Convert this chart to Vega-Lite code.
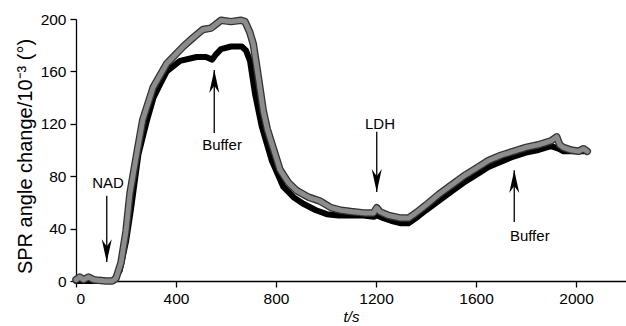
{
  "$schema": "https://vega.github.io/schema/vega-lite/v6.json",
  "width": 550,
  "height": 262,
  "autosize": "none",
  "padding": {"left": 76, "top": 19, "right": 0, "bottom": 45},
  "background": "white",
  "config": {
    "view": {"stroke": null},
    "font": "Liberation Sans",
    "axis": {
      "domainColor": "black",
      "domainWidth": 1.3,
      "tickColor": "black",
      "tickWidth": 1.3,
      "tickSize": 6,
      "labelColor": "black",
      "labelFontSize": 15.5,
      "titleColor": "black",
      "titleFontWeight": "normal",
      "grid": false
    }
  },
  "datasets": {
    "curves": [
      {"s": "black", "t": 0, "v": 0}, {"s": "black", "t": 150, "v": 0}, {"s": "black", "t": 175, "v": 8},
      {"s": "black", "t": 200, "v": 30}, {"s": "black", "t": 220, "v": 55}, {"s": "black", "t": 250, "v": 97},
      {"s": "black", "t": 283, "v": 122}, {"s": "black", "t": 310, "v": 140}, {"s": "black", "t": 333, "v": 149},
      {"s": "black", "t": 363, "v": 160}, {"s": "black", "t": 416, "v": 168}, {"s": "black", "t": 483, "v": 171},
      {"s": "black", "t": 520, "v": 171}, {"s": "black", "t": 545, "v": 169}, {"s": "black", "t": 560, "v": 173},
      {"s": "black", "t": 580, "v": 177}, {"s": "black", "t": 620, "v": 179}, {"s": "black", "t": 663, "v": 179},
      {"s": "black", "t": 680, "v": 176}, {"s": "black", "t": 696, "v": 168}, {"s": "black", "t": 716, "v": 143},
      {"s": "black", "t": 743, "v": 118}, {"s": "black", "t": 783, "v": 92}, {"s": "black", "t": 829, "v": 72},
      {"s": "black", "t": 870, "v": 64}, {"s": "black", "t": 909, "v": 59}, {"s": "black", "t": 960, "v": 54},
      {"s": "black", "t": 1003, "v": 51}, {"s": "black", "t": 1050, "v": 50}, {"s": "black", "t": 1100, "v": 50},
      {"s": "black", "t": 1150, "v": 50}, {"s": "black", "t": 1190, "v": 49}, {"s": "black", "t": 1205, "v": 50},
      {"s": "black", "t": 1230, "v": 48}, {"s": "black", "t": 1260, "v": 46}, {"s": "black", "t": 1300, "v": 44},
      {"s": "black", "t": 1330, "v": 44}, {"s": "black", "t": 1360, "v": 48}, {"s": "black", "t": 1400, "v": 54},
      {"s": "black", "t": 1450, "v": 61}, {"s": "black", "t": 1500, "v": 68}, {"s": "black", "t": 1550, "v": 75},
      {"s": "black", "t": 1600, "v": 81}, {"s": "black", "t": 1650, "v": 87}, {"s": "black", "t": 1700, "v": 91},
      {"s": "black", "t": 1750, "v": 95}, {"s": "black", "t": 1800, "v": 98}, {"s": "black", "t": 1850, "v": 100},
      {"s": "black", "t": 1900, "v": 103}, {"s": "black", "t": 1930, "v": 101}, {"s": "black", "t": 1950, "v": 99},
      {"s": "black", "t": 2000, "v": 99}, {"s": "black", "t": 2040, "v": 99},

      {"s": "gray", "t": 0, "v": 1}, {"s": "gray", "t": 15, "v": 3}, {"s": "gray", "t": 30, "v": 1},
      {"s": "gray", "t": 50, "v": 3}, {"s": "gray", "t": 70, "v": 1}, {"s": "gray", "t": 90, "v": 0.5},
      {"s": "gray", "t": 120, "v": 0}, {"s": "gray", "t": 145, "v": 0}, {"s": "gray", "t": 160, "v": 2},
      {"s": "gray", "t": 180, "v": 14}, {"s": "gray", "t": 200, "v": 38}, {"s": "gray", "t": 216, "v": 67},
      {"s": "gray", "t": 243, "v": 97}, {"s": "gray", "t": 267, "v": 123}, {"s": "gray", "t": 309, "v": 148},
      {"s": "gray", "t": 363, "v": 166}, {"s": "gray", "t": 429, "v": 179}, {"s": "gray", "t": 470, "v": 186},
      {"s": "gray", "t": 508, "v": 192}, {"s": "gray", "t": 540, "v": 193}, {"s": "gray", "t": 560, "v": 196},
      {"s": "gray", "t": 580, "v": 199}, {"s": "gray", "t": 620, "v": 198}, {"s": "gray", "t": 660, "v": 199},
      {"s": "gray", "t": 676, "v": 198}, {"s": "gray", "t": 695, "v": 190}, {"s": "gray", "t": 709, "v": 181},
      {"s": "gray", "t": 729, "v": 156}, {"s": "gray", "t": 749, "v": 130}, {"s": "gray", "t": 765, "v": 116},
      {"s": "gray", "t": 783, "v": 105}, {"s": "gray", "t": 816, "v": 85}, {"s": "gray", "t": 850, "v": 75},
      {"s": "gray", "t": 883, "v": 69}, {"s": "gray", "t": 930, "v": 64}, {"s": "gray", "t": 976, "v": 61},
      {"s": "gray", "t": 1020, "v": 56}, {"s": "gray", "t": 1060, "v": 54}, {"s": "gray", "t": 1100, "v": 53},
      {"s": "gray", "t": 1150, "v": 52}, {"s": "gray", "t": 1190, "v": 52}, {"s": "gray", "t": 1203, "v": 56},
      {"s": "gray", "t": 1215, "v": 53}, {"s": "gray", "t": 1250, "v": 50}, {"s": "gray", "t": 1300, "v": 48},
      {"s": "gray", "t": 1330, "v": 48}, {"s": "gray", "t": 1360, "v": 52}, {"s": "gray", "t": 1400, "v": 58},
      {"s": "gray", "t": 1450, "v": 66}, {"s": "gray", "t": 1500, "v": 73}, {"s": "gray", "t": 1550, "v": 80},
      {"s": "gray", "t": 1600, "v": 86}, {"s": "gray", "t": 1650, "v": 92}, {"s": "gray", "t": 1700, "v": 96},
      {"s": "gray", "t": 1750, "v": 99}, {"s": "gray", "t": 1800, "v": 102}, {"s": "gray", "t": 1850, "v": 104},
      {"s": "gray", "t": 1900, "v": 107}, {"s": "gray", "t": 1923, "v": 110}, {"s": "gray", "t": 1935, "v": 104},
      {"s": "gray", "t": 1949, "v": 102}, {"s": "gray", "t": 1980, "v": 100}, {"s": "gray", "t": 2010, "v": 99},
      {"s": "gray", "t": 2030, "v": 101}, {"s": "gray", "t": 2045, "v": 99}
    ],
    "notes": [
      {"label": "NAD", "t": 123, "tail": 65, "tip": 14.5, "dir": "down", "lt": 128, "lv": 75},
      {"label": "Buffer", "t": 553, "tail": 113, "tip": 161, "dir": "up", "lt": 584, "lv": 104},
      {"label": "LDH", "t": 1203, "tail": 114, "tip": 68, "dir": "down", "lt": 1216, "lv": 119.5},
      {"label": "Buffer", "t": 1753, "tail": 45, "tip": 84.5, "dir": "up", "lt": 1815, "lv": 34}
    ]
  },
  "layer": [
    {
      "data": {"name": "curves"},
      "transform": [{"filter": "datum.s === 'black'"}],
      "mark": {"type": "line", "color": "black", "strokeWidth": 6, "strokeJoin": "round", "strokeCap": "round"},
      "encoding": {
        "x": {
          "field": "t", "type": "quantitative",
          "scale": {"domain": [0, 2200], "nice": false},
          "axis": {"values": [0, 400, 800, 1200, 1600, 2000], "format": "d", "title": "t/s", "titleFontStyle": "italic", "titleFontSize": 15, "titlePadding": 3, "labelPadding": 4}
        },
        "y": {
          "field": "v", "type": "quantitative",
          "scale": {"domain": [0, 200], "nice": false},
          "axis": {"values": [0, 40, 80, 120, 160, 200], "format": "d", "title": "SPR angle change/10⁻³ (°)", "titleFontSize": 20, "titlePadding": 5, "titleY": 137, "labelPadding": 4}
        }
      }
    },
    {
      "data": {"name": "curves"},
      "transform": [{"filter": "datum.s === 'gray'"}],
      "mark": {"type": "line", "color": "#333333", "strokeWidth": 7.5, "strokeJoin": "round", "strokeCap": "round"},
      "encoding": {"x": {"field": "t", "type": "quantitative"}, "y": {"field": "v", "type": "quantitative"}}
    },
    {
      "data": {"name": "curves"},
      "transform": [{"filter": "datum.s === 'gray'"}],
      "mark": {"type": "line", "color": "#8c8c8c", "strokeWidth": 5, "strokeJoin": "round", "strokeCap": "round", "strokeDash": [1.5, 1.5]},
      "encoding": {"x": {"field": "t", "type": "quantitative"}, "y": {"field": "v", "type": "quantitative"}}
    },
    {
      "data": {"name": "notes"},
      "mark": {"type": "rule", "color": "black", "strokeWidth": 1.3},
      "encoding": {
        "x": {"field": "t", "type": "quantitative"},
        "y": {"field": "tail", "type": "quantitative"},
        "y2": {"field": "tip"}
      }
    },
    {
      "data": {"name": "notes"},
      "transform": [{"filter": "datum.dir === 'down'"}],
      "mark": {"type": "point", "filled": true, "color": "black", "opacity": 1, "size": 576, "shape": "M0,0 L-0.42,-1.9 L0,-1.3 L0.42,-1.9 Z"},
      "encoding": {
        "x": {"field": "t", "type": "quantitative"},
        "y": {"field": "tip", "type": "quantitative"}
      }
    },
    {
      "data": {"name": "notes"},
      "transform": [{"filter": "datum.dir === 'up'"}],
      "mark": {"type": "point", "filled": true, "color": "black", "opacity": 1, "size": 576, "shape": "M0,0 L-0.42,1.9 L0,1.3 L0.42,1.9 Z"},
      "encoding": {
        "x": {"field": "t", "type": "quantitative"},
        "y": {"field": "tip", "type": "quantitative"}
      }
    },
    {
      "data": {"name": "notes"},
      "mark": {"type": "text", "fontSize": 15, "color": "black", "align": "center", "baseline": "middle"},
      "encoding": {
        "x": {"field": "lt", "type": "quantitative"},
        "y": {"field": "lv", "type": "quantitative"},
        "text": {"field": "label"}
      }
    }
  ]
}
